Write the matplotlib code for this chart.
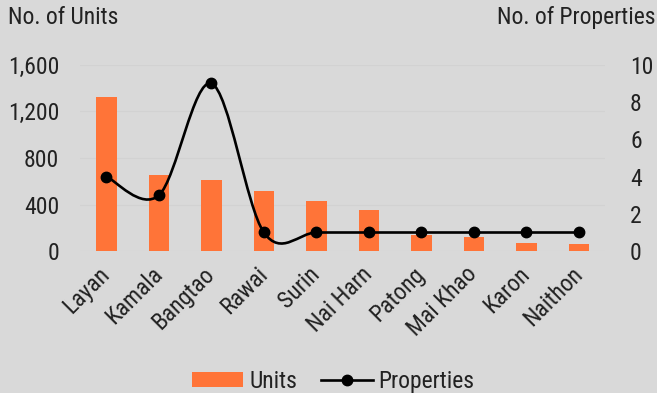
import matplotlib
matplotlib.use("Agg")
import matplotlib.pyplot as plt
from matplotlib.path import Path
from matplotlib.patches import PathPatch, Patch
from matplotlib.lines import Line2D
from matplotlib import font_manager

# pick a narrow sans if there is one (the original looks like Arial Narrow)
names = sorted({f.name for f in font_manager.fontManager.ttflist})
prefer = ['Liberation Sans Narrow', 'Roboto Condensed', 'Open Sans Condensed', 'Noto Sans Condensed']
cond = [n for n in prefer if n in names]
if not cond:
    cond = [n for n in names if 'Narrow' in n or 'Condensed' in n][:1]
print(cond)
plt.rcParams['font.family'] = cond[:1] + ['Liberation Sans', 'DejaVu Sans']

areas = ['Layan', 'Kamala', 'Bangtao', 'Rawai', 'Surin', 'Nai Harn', 'Patong', 'Mai Khao', 'Karon', 'Naithon']
units = [1326, 655, 607, 520, 432, 357, 137, 118, 68, 58]
properties = [4, 3, 9, 1, 1, 1, 1, 1, 1, 1]

bg = '#d9d9d9'
bar_col = '#ff7438'
txt = '#222222'
fs = 17 if cond else 15

fig = plt.figure(figsize=(6.57, 3.93), dpi=100, facecolor=bg)
ax = fig.add_axes([0.122, 0.361, 0.799, 0.474], facecolor=bg)
ax2 = ax.twinx()

x = list(range(len(areas)))
ax.bar(x, units, width=0.39, color=bar_col, zorder=2)
ax.set_ylim(0, 1600)
ax.set_yticks([0, 400, 800, 1200, 1600])
ax.set_yticklabels(['0', '400', '800', '1,200', '1,600'])
ax.set_xlim(-0.5, len(areas) - 0.5)
ax.set_xticks(x)
ax.set_xticklabels(areas, rotation=45, ha='right', va='center', rotation_mode='anchor')
ax.yaxis.grid(True, color='#d2d2d2', linewidth=0.8, zorder=0)
ax.set_axisbelow(True)

# smoothed line (Catmull-Rom as Bezier segments, like Excel's smooth line)
pts = list(zip(x, properties))
verts = [pts[0]]
codes = [Path.MOVETO]
for i in range(len(pts) - 1):
    p0 = pts[max(i - 1, 0)]
    p1 = pts[i]
    p2 = pts[i + 1]
    p3 = pts[min(i + 2, len(pts) - 1)]
    c1 = (p1[0] + (p2[0] - p0[0]) / 6, p1[1] + (p2[1] - p0[1]) / 6)
    c2 = (p2[0] - (p3[0] - p1[0]) / 6, p2[1] - (p3[1] - p1[1]) / 6)
    verts += [c1, c2, p2]
    codes += [Path.CURVE4] * 3
ax2.add_patch(PathPatch(Path(verts, codes), facecolor='none', edgecolor='black', linewidth=1.9, zorder=3))
ax2.plot(x, properties, linestyle='none', marker='o', markersize=7.5, color='black', zorder=4)
ax2.set_ylim(0, 10)
ax2.set_yticks([0, 2, 4, 6, 8, 10])

for a in (ax, ax2):
    for s in a.spines.values():
        s.set_visible(False)
    a.tick_params(length=0, labelsize=fs, colors=txt)
ax.tick_params(axis='y', pad=15)
ax.tick_params(axis='x', pad=14)
ax2.tick_params(axis='y', pad=18)

fig.text(0.012, 0.955, 'No. of Units', fontsize=fs, color=txt, va='center', ha='left')
fig.text(0.998, 0.955, 'No. of Properties', fontsize=fs, color=txt, va='center', ha='right')

handles = [Patch(facecolor=bar_col, edgecolor='none'),
           Line2D([0], [0], color='black', linewidth=1.9, marker='o', markersize=7.5)]
fig.legend(handles, ['Units', 'Properties'], loc='center', bbox_to_anchor=(0.507, 0.03),
           ncol=2, frameon=False, fontsize=fs, handlelength=2.2, handleheight=0.65,
           columnspacing=1.0, handletextpad=0.25, labelcolor=txt)

fig.savefig('out.png', dpi=100, facecolor=bg)
